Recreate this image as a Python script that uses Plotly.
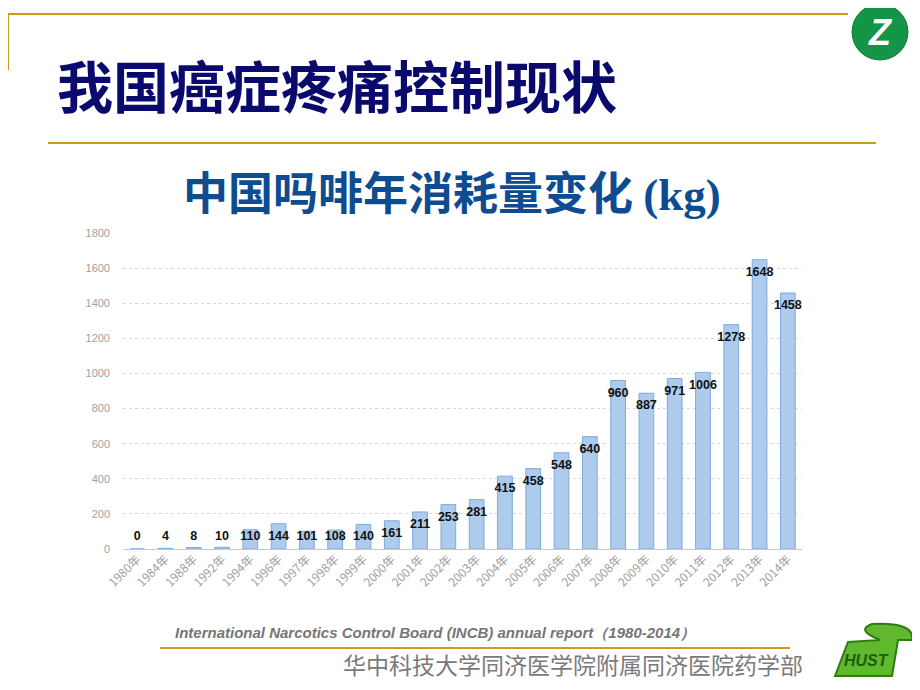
import plotly.graph_objects as go

years = ["1980年", "1984年", "1988年", "1992年", "1994年", "1996年", "1997年", "1998年",
         "1999年", "2000年", "2001年", "2002年", "2003年", "2004年", "2005年", "2006年",
         "2007年", "2008年", "2009年", "2010年", "2011年", "2012年", "2013年", "2014年"]
values = [0, 4, 8, 10, 110, 144, 101, 108, 140, 161, 211, 253, 281, 415, 458, 548,
          640, 960, 887, 971, 1006, 1278, 1648, 1458]
y_ticks = [0, 200, 400, 600, 800, 1000, 1200, 1400, 1600, 1800]

W, H = 920, 690
OFF = 8  # page body margin offset compensation


def px(x):
    return (x - OFF) / W


def py(y):
    return (H - (y - OFF)) / H


label_y = [max(v - 74, 68) for v in values]

fig = go.Figure()
fig.add_trace(go.Bar(
    x=years, y=values,
    marker=dict(color="#ADCBEC", line=dict(color="#7EAADB", width=1)),
    hoverinfo="x+y",
))
fig.add_trace(go.Scatter(
    x=years, y=label_y, mode="text",
    text=[str(v) for v in values],
    textfont=dict(family="Liberation Sans, Arial", size=12.5, color="#111111", weight="bold"),
    hoverinfo="skip",
))

fig.update_layout(
    width=W, height=H,
    margin=dict(l=0, r=0, t=0, b=0, pad=0),
    paper_bgcolor="white", plot_bgcolor="white",
    showlegend=False,
    bargap=0.48,
    xaxis=dict(
        domain=[px(123), px(802)],
        automargin=False,
        range=[-0.5, len(years) - 0.5],
        tickangle=-45,
        tickfont=dict(family="Noto Sans CJK SC", size=12, color="#A0A0A0"),
        showgrid=False, showline=False, zeroline=False, ticks="",
    ),
    yaxis=dict(
        domain=[py(549), py(233)],
        automargin=False,
        range=[0, 1800],
        tickvals=y_ticks,
        tickfont=dict(family="Liberation Sans, Arial", size=11, color="#A0A0A0"),
        showgrid=True, gridcolor="#D8D8D8", griddash="dot", gridwidth=1,
        zeroline=True, zerolinecolor="#C8C8C8", zerolinewidth=1,
        showline=False, ticks="", ticklabelstandoff=12,
    ),
)

gold = "#CC9A1A"
shapes = [
    dict(type="line", xref="paper", yref="paper", x0=px(6), x1=px(848), y0=py(14), y1=py(14),
         line=dict(color=gold, width=2)),
    dict(type="line", xref="paper", yref="paper", x0=px(8), x1=px(8), y0=py(14), y1=py(70),
         line=dict(color=gold, width=2)),
    dict(type="line", xref="paper", yref="paper", x0=px(48), x1=px(876), y0=py(143), y1=py(143),
         line=dict(color=gold, width=2)),
    dict(type="line", xref="paper", yref="paper", x0=px(160), x1=px(790), y0=py(648), y1=py(648),
         line=dict(color=gold, width=2)),
    # top-right round logo
    dict(type="circle", xref="paper", yref="paper", x0=px(852), x1=px(908), y0=py(60), y1=py(4),
         fillcolor="#149447", line=dict(color="#0E7A38", width=1)),
    # bottom-right logo swoosh
    dict(type="path", xref="paper", yref="paper",
         path=(f"M {px(835)} {py(676)} L {px(848)} {py(642)} L {px(880)} {py(640)} "
               f"Q {px(855)} {py(630)} {px(872)} {py(624)} Q {px(915)} {py(622)} {px(912)} {py(640)} "
               f"L {px(898)} {py(640)} L {px(892)} {py(676)} Z"),
         fillcolor="#5FB82E", line=dict(color="#2E7D12", width=2)),
]
fig.update_layout(shapes=shapes)

annotations = [
    dict(text="我国癌症疼痛控制现状", x=px(337), y=py(83), xref="paper", yref="paper",
         showarrow=False, xanchor="center", yanchor="middle",
         font=dict(family="Noto Sans CJK SC", size=56, color="#0A0A6E", weight="bold")),
    dict(text="中国吗啡年消耗量变化 <span style='font-family:Liberation Serif'>(kg)</span>",
         x=px(452), y=py(190), xref="paper", yref="paper",
         showarrow=False, xanchor="center", yanchor="middle",
         font=dict(family="Noto Sans CJK SC", size=45, color="#0E4C92", weight="bold")),
    dict(text="<i><b>International Narcotics Control Board (INCB) annual report（1980-2014）</b></i>",
         x=px(173), y=py(632), xref="paper", yref="paper",
         showarrow=False, xanchor="left", yanchor="middle",
         font=dict(family="Liberation Sans, Arial", size=15, color="#767676")),
    dict(text="华中科技大学同济医学院附属同济医院药学部", x=px(805), y=py(664), xref="paper", yref="paper",
         showarrow=False, xanchor="right", yanchor="middle",
         font=dict(family="Noto Sans CJK SC", size=23, color="#7A7A7A")),
    dict(text="<b><i>Z</i></b>", x=px(880), y=py(32), xref="paper", yref="paper",
         showarrow=False, xanchor="center", yanchor="middle",
         font=dict(family="Liberation Sans, Arial", size=36, color="white")),
    dict(text="<b><i>HUST</i></b>", x=px(866), y=py(660), xref="paper", yref="paper",
         showarrow=False, xanchor="center", yanchor="middle",
         font=dict(family="Liberation Sans, Arial", size=16, color="#1E5E0A")),
]
fig.update_layout(annotations=annotations)

fig.write_html("out.html")
